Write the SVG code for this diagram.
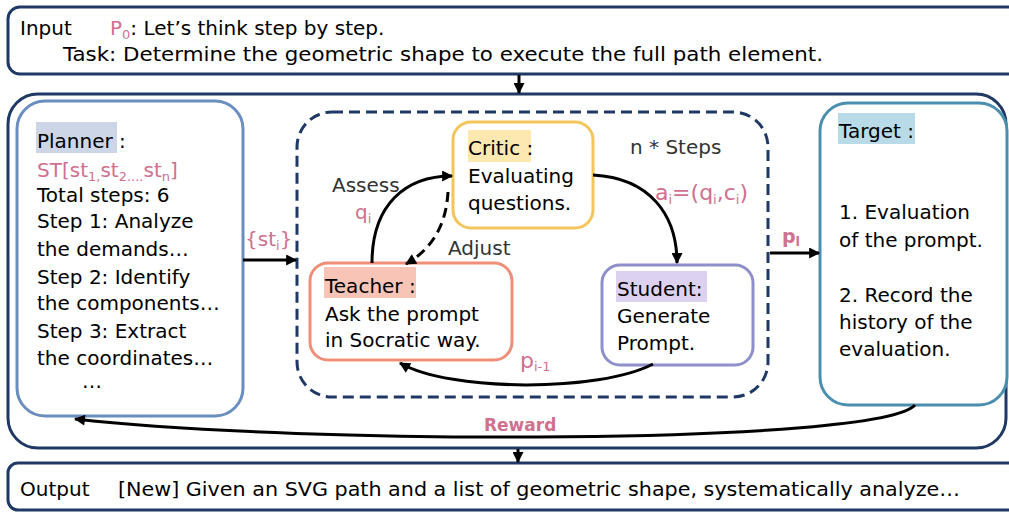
<svg xmlns="http://www.w3.org/2000/svg" width="1009" height="512" viewBox="0 0 1009 512">
<defs>
<style>
text{font-family:"DejaVu Sans","Liberation Sans",sans-serif;fill:#000}
.io{font-size:20px}
.bx{font-size:20px}
.pk{fill:#d0708f}
.gr{fill:#333}
.sub{font-size:13px}
.frame{fill:#fff;stroke:#1f3864;stroke-width:3}
.dash{fill:none;stroke:#1f3864;stroke-width:3;stroke-dasharray:11 6}
.conn{fill:none;stroke:#000;stroke-width:3}
</style>
<marker id="ah" viewBox="0 0 10 10" refX="9" refY="5" markerWidth="12" markerHeight="11" markerUnits="userSpaceOnUse" orient="auto">
<path d="M0,0 L10,5 L0,10 z" fill="#000"/>
</marker>
</defs>
<rect width="1009" height="512" fill="#fff"/>

<g id="input">
<rect class="frame" x="8" y="7" width="1012" height="67" rx="12"/>
<text class="io" x="20" y="35">Input</text>
<text class="io" x="110" y="35"><tspan class="pk">P</tspan><tspan class="pk sub" dy="4">0</tspan><tspan dy="-4">: Let’s think step by step.</tspan></text>
<text class="io" x="63" y="61" textLength="760" lengthAdjust="spacingAndGlyphs">Task: Determine the geometric shape to execute the full path element.</text>
</g>

<g id="main">
<rect class="frame" x="8" y="94" width="998" height="354" rx="30"/>
</g>

<g id="loop">
<rect class="dash" x="297" y="112" width="471" height="285" rx="35"/>
<text class="bx gr" x="630" y="154">n * Steps</text>
</g>

<g id="planner">
<rect x="17" y="101" width="226" height="315" rx="28" fill="#fff" stroke="#6a8ebf" stroke-width="3"/>
<rect x="36" y="122" width="81" height="31" fill="#cdd6e6"/>
<text class="bx" x="37" y="148">Planner :</text>
<text class="bx pk" x="37" y="177">ST[st<tspan class="sub" dy="4">1,</tspan><tspan dy="-4">st</tspan><tspan class="sub" dy="4">2....</tspan><tspan dy="-4">st</tspan><tspan class="sub" dy="4">n</tspan><tspan dy="-4">]</tspan></text>
<text class="bx" x="37" y="202">Total steps: 6</text>
<text class="bx" x="37" y="228">Step 1: Analyze</text>
<text class="bx" x="37" y="256">the demands…</text>
<text class="bx" x="37" y="284">Step 2: Identify</text>
<text class="bx" x="37" y="310">the components…</text>
<text class="bx" x="37" y="338">Step 3: Extract</text>
<text class="bx" x="37" y="365">the coordinates…</text>
<text class="bx" x="82" y="388">…</text>
</g>

<g id="critic">
<rect x="453" y="122" width="140" height="106" rx="18" fill="#fff" stroke="#f4c55b" stroke-width="3"/>
<rect x="468" y="130" width="63" height="32" fill="#fde8b2"/>
<text class="bx" x="468" y="155">Critic :</text>
<text class="bx" x="468" y="183">Evaluating</text>
<text class="bx" x="468" y="210">questions.</text>
</g>

<g id="teacher">
<rect x="310" y="263" width="202" height="97" rx="18" fill="#fff" stroke="#ef8f7a" stroke-width="3"/>
<rect x="324" y="267" width="92" height="31" fill="#f7c4b6"/>
<text class="bx" x="325" y="293">Teacher :</text>
<text class="bx" x="325" y="321">Ask the prompt</text>
<text class="bx" x="325" y="347">in Socratic way.</text>
</g>

<g id="student">
<rect x="602" y="265" width="151" height="100" rx="18" fill="#fff" stroke="#8e8fcb" stroke-width="3"/>
<rect x="616" y="271" width="91" height="31" fill="#dcd1ee"/>
<text class="bx" x="617" y="296">Student:</text>
<text class="bx" x="617" y="323">Generate</text>
<text class="bx" x="617" y="350">Prompt.</text>
</g>

<g id="target">
<rect x="820" y="103" width="187" height="302" rx="28" fill="#fff" stroke="#4a8fb0" stroke-width="3"/>
<rect x="838" y="113" width="77" height="31" fill="#b8dbe7"/>
<text class="bx" x="839" y="138">Target :</text>
<text class="bx" x="839" y="219">1. Evaluation</text>
<text class="bx" x="839" y="247">of the prompt.</text>
<text class="bx" x="839" y="302">2. Record the</text>
<text class="bx" x="839" y="329">history of the</text>
<text class="bx" x="839" y="356">evaluation.</text>
</g>

<g id="output">
<rect class="frame" x="8" y="463" width="1012" height="47" rx="10"/>
<text class="io" x="20" y="496">Output</text>
<text class="io" x="118" y="496" textLength="842" lengthAdjust="spacingAndGlyphs">[New] Given an SVG path and a list of geometric shape, systematically analyze…</text>
</g>

<g id="connectors">
<path class="conn" d="M519,75 L519,93" stroke-width="2" marker-end="url(#ah)"/>
<path class="conn" d="M518,449 L518,462" stroke-width="2" marker-end="url(#ah)"/>
<path class="conn" d="M243,260 L296,260" marker-end="url(#ah)"/>
<path class="conn" d="M770,253 L819,253" marker-end="url(#ah)"/>
<path class="conn" d="M372,263 C372,205 405,176 452,176" marker-end="url(#ah)"/>
<path class="conn" d="M448,192 C446,228 430,250 406,264" stroke-dasharray="10 6" marker-end="url(#ah)"/>
<path class="conn" d="M593,175 C650,178 677,215 677,263" marker-end="url(#ah)"/>
<path class="conn" d="M653,364 C600,392 450,392 400,363" marker-end="url(#ah)"/>
<path class="conn" d="M915,405 C880,445 300,445 75,419" marker-end="url(#ah)"/>
<text class="pk" x="245" y="246" font-size="20">{st<tspan class="sub" dy="4">i</tspan><tspan dy="-4">}</tspan></text>
<text class="pk" x="782" y="243" font-size="19" font-weight="bold">p<tspan class="sub" dy="3">l</tspan></text>
<text class="bx gr" x="332" y="192">Assess</text>
<text class="bx pk" x="355" y="219">q<tspan class="sub" dy="4">i</tspan></text>
<text class="bx gr" x="448" y="255">Adjust</text>
<text class="pk" x="655" y="200" font-size="22">a<tspan class="sub" dy="4">i</tspan><tspan dy="-4">=(q</tspan><tspan class="sub" dy="4">i</tspan><tspan dy="-4">,c</tspan><tspan class="sub" dy="4">i</tspan><tspan dy="-4">)</tspan></text>
<text class="pk" x="520" y="368" font-size="22">p<tspan class="sub" dy="3">i-1</tspan></text>
<text class="pk" x="484" y="431" font-size="17" font-weight="bold">Reward</text>
</g>
</svg>
